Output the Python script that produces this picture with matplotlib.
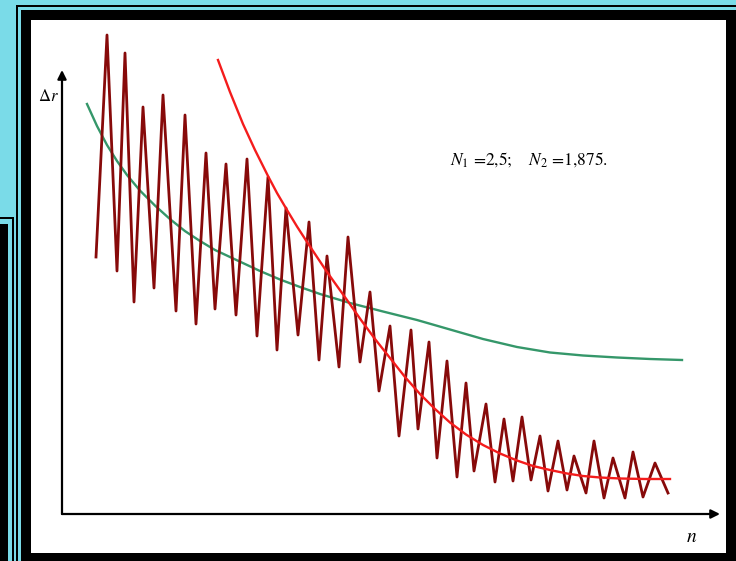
import matplotlib
matplotlib.use("Agg")
import matplotlib.pyplot as plt
from matplotlib.patches import Rectangle

W, H = 736, 561

# zigzag series: (n, delta r)
zig_n = [3.4, 4.5, 5.5, 6.3, 7.2, 8.1, 9.2, 10.1, 11.4, 12.3, 13.4, 14.4, 15.3,
         16.4, 17.4, 18.5, 19.5, 20.6, 21.5, 22.4, 23.6, 24.7, 25.7, 26.5, 27.7,
         28.6, 29.8, 30.8, 31.7, 32.8, 33.7, 34.9, 35.6, 36.7, 37.5, 38.5, 39.5,
         40.4, 41.2, 42.4, 43.3, 44.2, 45.1, 46.0, 46.9, 47.8, 48.6, 49.6, 50.5,
         51.2, 52.4, 53.2, 54.2, 55.1, 56.3, 57.1, 58.1, 59.3, 60.6]
zig_dr = [2.57, 4.79, 2.43, 4.61, 2.12, 4.07, 2.26, 4.19, 2.03, 3.99, 1.90, 3.61, 2.05,
          3.50, 1.99, 3.55, 1.78, 3.37, 1.64, 3.06, 1.79, 2.92, 1.54, 2.58, 1.47,
          2.77, 1.52, 2.22, 1.23, 1.88, 0.78, 1.84, 0.85, 1.72, 0.56, 1.53, 0.37,
          1.31, 0.43, 1.10, 0.32, 0.95, 0.33, 0.97, 0.34, 0.78, 0.23, 0.73, 0.24,
          0.58, 0.21, 0.73, 0.16, 0.56, 0.16, 0.62, 0.17, 0.51, 0.21]

# red envelope
red_n = [15.6, 16.8, 18.1, 19.3, 20.6, 21.5, 22.5, 23.5, 24.6, 25.6, 26.5, 27.5,
         28.5, 29.9, 31.3, 32.8, 34.3, 35.8, 37.3, 38.8, 40.4, 42.1, 43.8, 45.5,
         47.1, 48.8, 50.5, 52.1, 53.8, 55.8, 58.3, 60.8]
red_dr = [4.54, 4.22, 3.90, 3.64, 3.38, 3.21, 3.04, 2.875, 2.705, 2.555, 2.42, 2.28,
          2.14, 1.94, 1.75, 1.56, 1.37, 1.20, 1.05, 0.915, 0.795, 0.69, 0.605, 0.535,
          0.48, 0.44, 0.405, 0.38, 0.365, 0.355, 0.35, 0.35]

# green curve
green_n = [2.5, 3.5, 4.5, 5.5, 6.5, 7.8, 9.3, 10.8, 12.3, 13.8, 15.3, 16.8, 18.3,
           19.8, 21.8, 23.8, 25.8, 28.8, 32.1, 35.5, 38.8, 42.1, 45.5, 48.8, 52.1,
           55.5, 58.8, 62.0]
green_dr = [4.10, 3.88, 3.69, 3.53, 3.39, 3.234, 3.084, 2.949, 2.829, 2.73, 2.64,
            2.57, 2.50, 2.43, 2.345, 2.27, 2.20, 2.11, 2.025, 1.94, 1.845, 1.75,
            1.67, 1.615, 1.585, 1.565, 1.55, 1.54]

label_text = r"$N_1$ =2,5;    $N_2$ =1,875."

CYAN = "#7adbe8"

plt.rcParams["mathtext.fontset"] = "stix"

fig = plt.figure(figsize=(W / 100, H / 100), dpi=100, facecolor=CYAN)


def px_rect(x0, y0, x1, y1, color):
    # pixel box, y measured from the top
    fig.add_artist(Rectangle((x0 / W, 1 - y1 / H), (x1 - x0) / W, (y1 - y0) / H,
                             transform=fig.transFigure, facecolor=color,
                             edgecolor="none", zorder=0))


# window frames
px_rect(16, 5, 740, 565, "black")
px_rect(18, 6.5, 740, 565, CYAN)
px_rect(21, 10, 740, 565, "black")
px_rect(31, 20, 726, 553, "white")
px_rect(-2, 217, 14, 565, "black")
px_rect(-2, 219, 12, 565, CYAN)
px_rect(-2, 224, 8, 565, "black")

ax = fig.add_axes([62 / W, 47 / H, (722 - 62) / W, (514 - 20) / H])
ax.set_xlim(0, 66)
ax.set_ylim(0, 4.94)
ax.patch.set_visible(False)
for s in ax.spines.values():
    s.set_visible(False)
ax.set_xticks([])
ax.set_yticks([])

ax.plot(green_n, green_dr, color="#35976a", lw=1.7, zorder=2)
ax.plot(zig_n, zig_dr, color="#870a0a", lw=2.0, zorder=3)
ax.plot(red_n, red_dr, color="#f41c1c", lw=1.7, zorder=4)

# axes arrows
arrow = dict(arrowstyle="-|>", lw=1.6, color="black", mutation_scale=13,
             shrinkA=0, shrinkB=0)
ax.annotate("", xy=(65.8, 0), xytext=(0, 0), arrowprops=arrow, annotation_clip=False)
ax.annotate("", xy=(0, 4.44), xytext=(0, 0), arrowprops=arrow, annotation_clip=False)

fig.text(48 / W, 1 - 96 / H, r"$\Delta r$", fontsize=12, ha="center", va="center")
fig.text(692 / W, 1 - 536 / H, r"$n$", fontsize=14, ha="center", va="center")
fig.text(450 / W, 1 - 160 / H, label_text, fontsize=12.5, ha="left", va="center",
         family="STIXGeneral")

fig.savefig("out.png", dpi=100, facecolor=CYAN)
